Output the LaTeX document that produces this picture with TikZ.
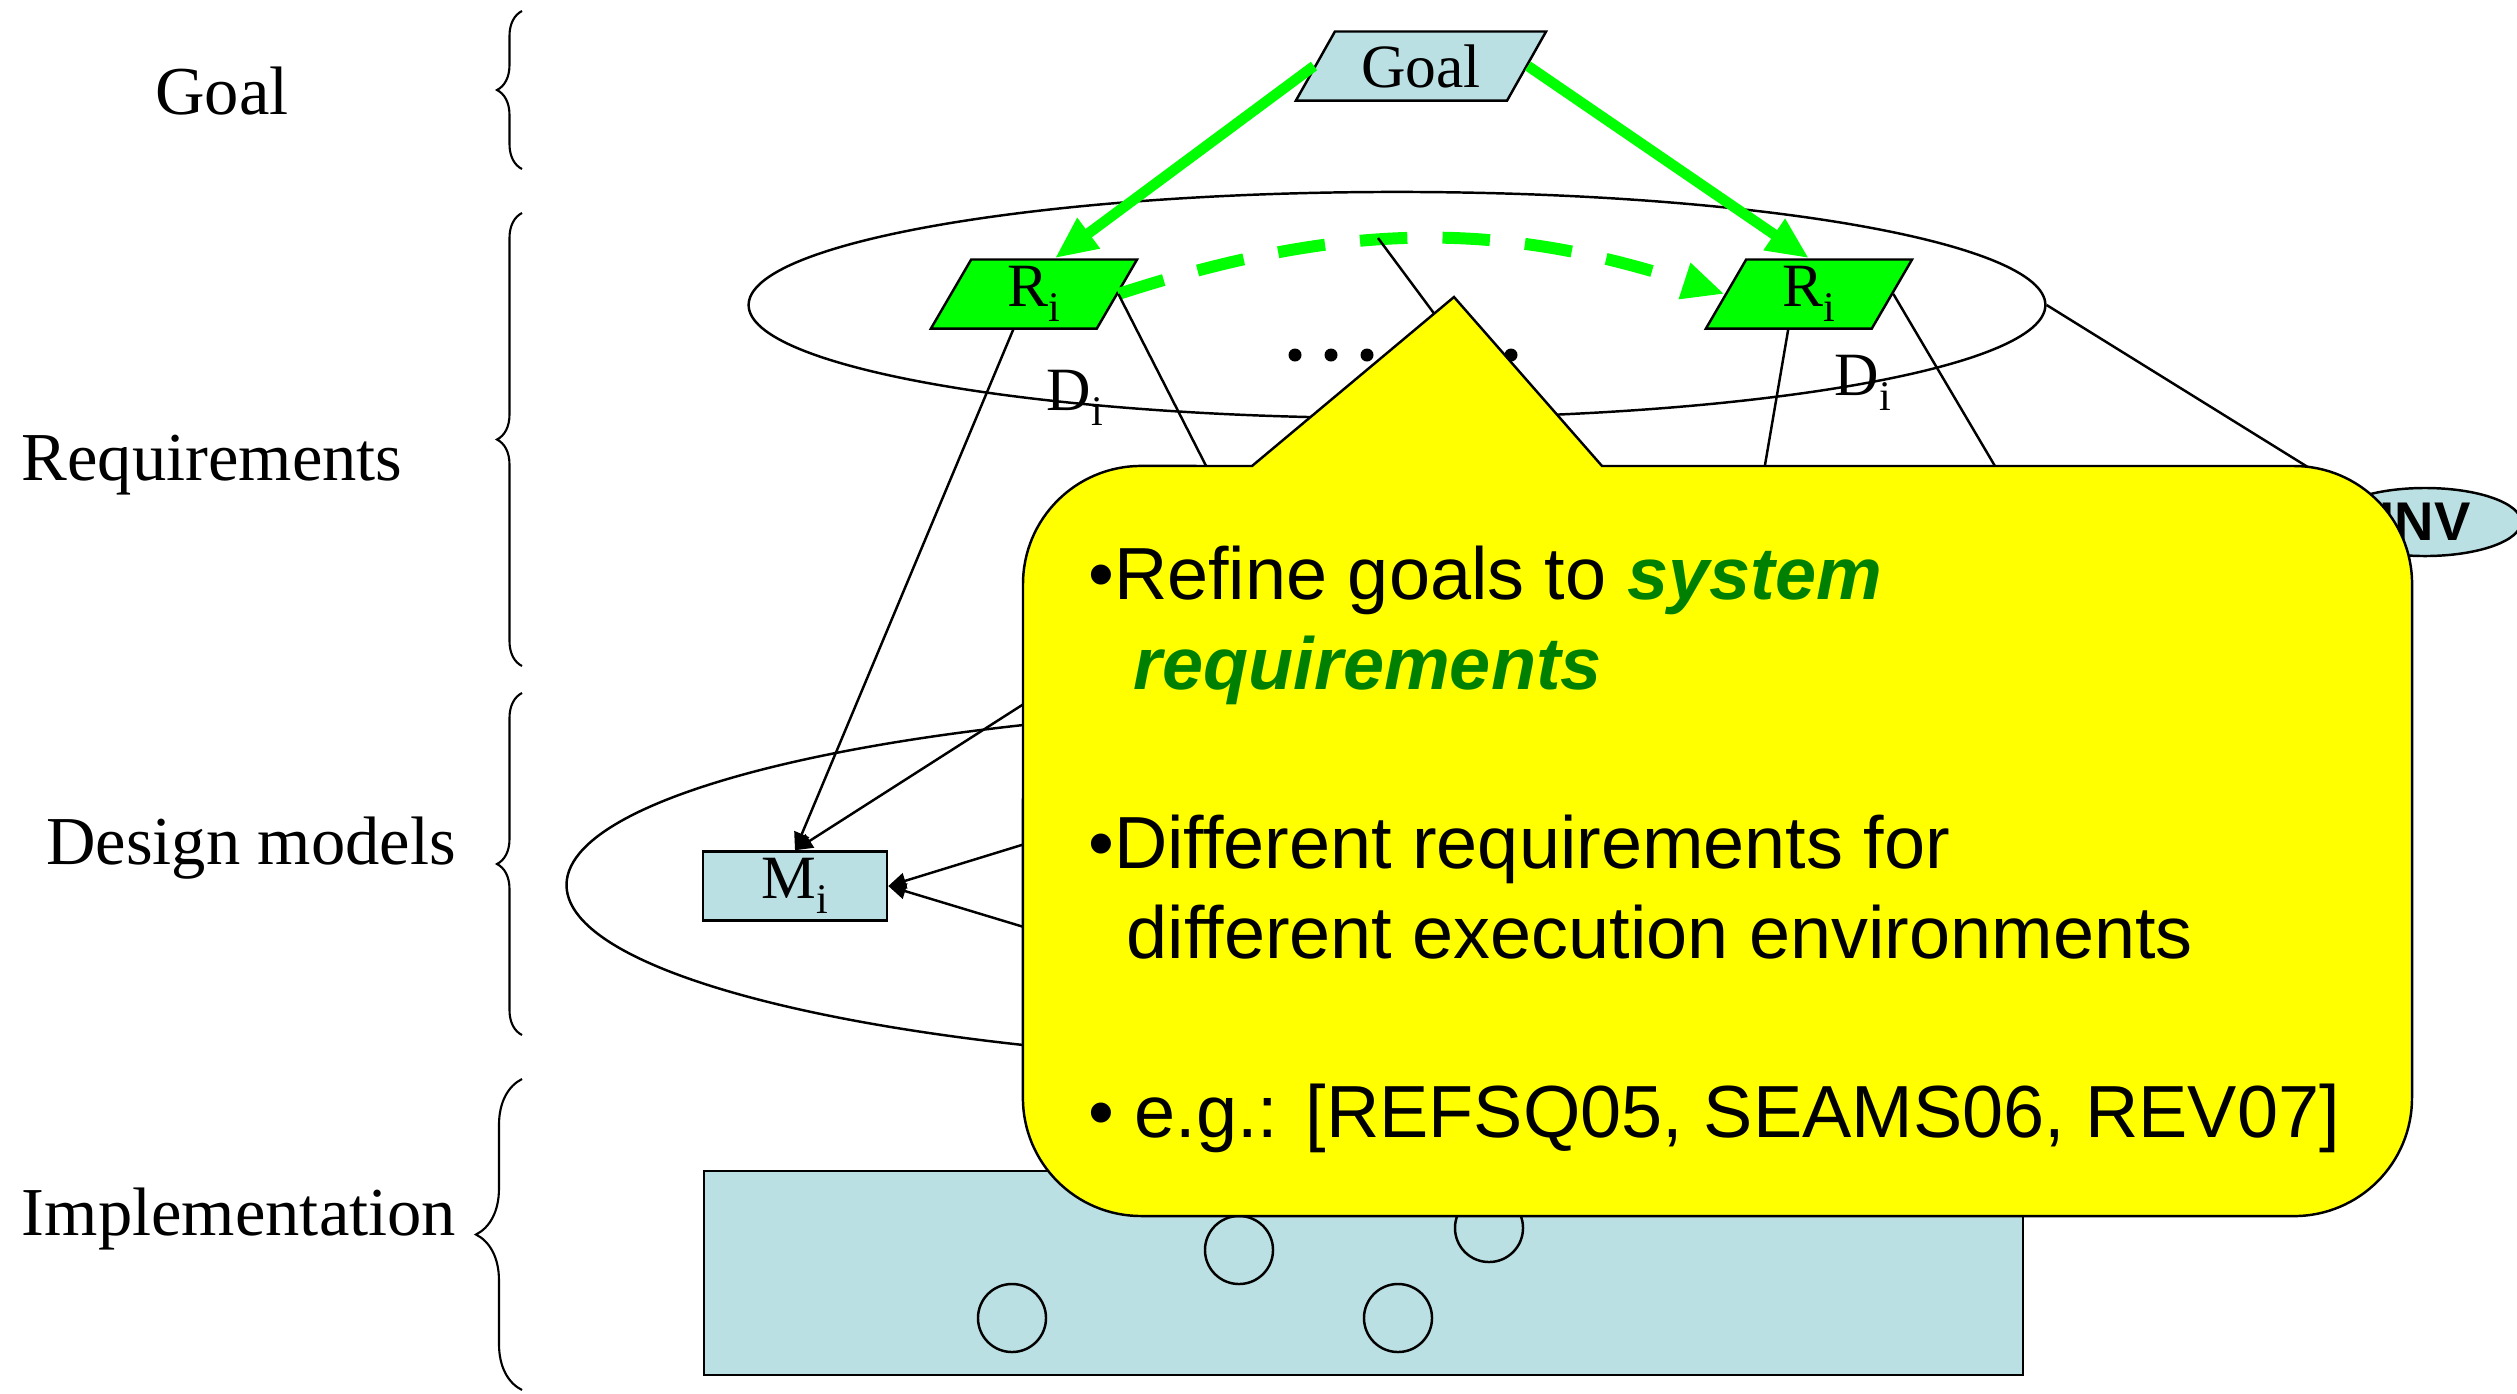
\documentclass[tikz,border=0pt]{standalone}
\usepackage{fontspec}
\setmainfont{Liberation Serif}
\setsansfont{Liberation Sans}
\usepackage{xcolor}
\usepackage{tikz}
\usetikzlibrary{shapes.geometric,arrows.meta,decorations.pathreplacing}

\definecolor{lightblue}{HTML}{BBE0E3}
\definecolor{brightgreen}{HTML}{00FF00}
\definecolor{darkgreen}{HTML}{008000}
\definecolor{noteyellow}{HTML}{FFFF00}

\newcommand{\lowidx}[1]{\raisebox{-4.3pt}{\fontsize{12}{12}\selectfont #1}}

\tikzset{
    layerlabel/.style={anchor=base, font=\fontsize{19.5}{23}\selectfont},
    layerbrace/.style={decorate, decoration={brace, amplitude=0.25cm}, line width=0.6pt},
    group/.style={ellipse, draw, inner sep=0pt},
    para/.style={trapezium, trapezium stretches body, draw, inner sep=0pt,
        minimum height=0.69cm, font=\fontsize{17.5}{20}\selectfont},
    goalbox/.style={para, trapezium left angle=48, trapezium right angle=132,
        fill=lightblue, minimum width=2.5cm},
    reqbox/.style={para, trapezium left angle=54, trapezium right angle=126,
        fill=brightgreen, minimum width=2.06cm},
    modelbox/.style={rectangle, draw, fill=lightblue, inner sep=0pt,
        minimum width=1.84cm, minimum height=0.69cm, font=\fontsize{17.5}{20}\selectfont},
    domlabel/.style={inner sep=0pt, font=\fontsize{17.5}{20}\selectfont},
    invnode/.style={ellipse, draw, fill=lightblue, inner sep=0pt, minimum width=1.92cm,
        minimum height=0.68cm, font=\sffamily\bfseries\fontsize{15.5}{18}\selectfont},
    refine/.style={draw=brightgreen, line width=3pt, -{Triangle[length=12pt,width=10pt]}},
    variant/.style={draw=brightgreen, line width=3.4pt, dash pattern=on 13.5pt off 10pt,
        -{Triangle[length=12pt,width=10pt]}},
    link/.style={-{Triangle[length=5pt,width=4.5pt]}},
    note/.style={draw, fill=noteyellow, line width=0.7pt},
    notetext/.style={anchor=north west, align=left, inner sep=0pt,
        font=\sffamily\fontsize{21}{25.5}\selectfont}
}

\begin{document}
\begin{tikzpicture}[x=0.01cm, y=-0.01cm, line width=0.7pt]
    \def\crad{1.18cm}
    \useasboundingbox (0,0) rectangle (2517,1393);

    % layer labels
    \node[layerlabel] (lgoal) at (222,114) {Goal};
    \node[layerlabel] (lreq) at (212,480) {Requirements};
    \node[layerlabel] (ldesign) at (251,864) {Design models};
    \node[layerlabel] (limpl) at (239,1235) {Implementation};

    % braces
    \draw[layerbrace] (522,169) -- (522,11);
    \draw[layerbrace] (522,666) -- (522,213);
    \draw[layerbrace] (522,1035) -- (522,693);
    \draw[layerbrace, decoration={amplitude=0.46cm}] (522,1390) -- (522,1079);

    % groups
    \node[group, minimum width=12.96cm, minimum height=2.26cm] (reqs) at (1397,305) {};
    \node[group, minimum width=16.6cm, minimum height=3.58cm] (design) at (1397,885) {};

    % implementation
    \draw[fill=lightblue] (704,1171) rectangle (2023,1375);
    \foreach \cx/\cy in {1239/1250, 1489/1228, 1012/1318, 1398/1318}
        \draw (\cx,\cy) circle (0.34cm);

    % nodes
    \node[goalbox] (goal) at (1421,66) {Goal};
    \node[reqbox] (ril) at (1034,294) {R\lowidx{i}};
    \node[reqbox] (rir) at (1809,294) {R\lowidx{i}};
    \node[domlabel] (dil) at (1075,398) {D\lowidx{i}};
    \node[domlabel] (dir) at (1863,383) {D\lowidx{i}};
    \node[modelbox] (mi) at (795,886) {M\lowidx{i}};
    \node[invnode] (inv) at (2425,522) {INV};

    % dots
    \foreach \k in {0,...,6}
        \fill ({1295+36*\k},355) circle (0.065cm);

    % ends hidden under the note
    \coordinate (peak) at (1378,238);
    \coordinate (h1) at (1249,550);
    \coordinate (h2) at (1531,444);
    \coordinate (h3) at (1759,500);
    \coordinate (h4) at (2015,500);
    \coordinate (hA) at (1130,636);
    \coordinate (hB) at (1090,824);
    \coordinate (hC) at (1090,947);

    % refinement
    \draw[refine] (goal.left side) -- (ril.top side);
    \draw[refine] (goal.right side) -- (rir.north);
    \draw[variant] (ril.right side) to[bend left=18] (rir.left side);

    % links
    \draw[link] (ril.bottom side) -- (mi.north);
    \draw (ril.right side) -- (h1);
    \draw (peak) -- (h2);
    \draw (rir.bottom side) -- (h3);
    \draw (rir.right side) -- (h4);
    \draw (reqs.east) -- (inv.north west);
    \draw[link] (hA) -- (mi.north);
    \draw[link] (hB) -- (mi.east);
    \draw[link] (hC) -- (mi.east);

    % note
    \draw[note] (1602,466) -- (2294,466) arc[start angle=90, end angle=0, radius=\crad]
        -- (2412,1098) arc[start angle=0, end angle=-90, radius=\crad]
        -- (1141,1216) arc[start angle=270, end angle=180, radius=\crad]
        -- (1023,584) arc[start angle=180, end angle=90, radius=\crad]
        -- (1252,466) -- (1454,297) -- cycle;
    \node[notetext] (notetxt) at (1087,545) {%
        •Refine goals to \textcolor{darkgreen}{\bfseries\itshape system}\\
        \hspace*{13pt}\textcolor{darkgreen}{\bfseries\itshape requirements}\\[25.5pt]
        •Different requirements for\\
        \hspace*{11pt}different execution environments\\[25.5pt]
        • e.g.: [REFSQ05, SEAMS06, REV07]};

\end{tikzpicture}
\end{document}
